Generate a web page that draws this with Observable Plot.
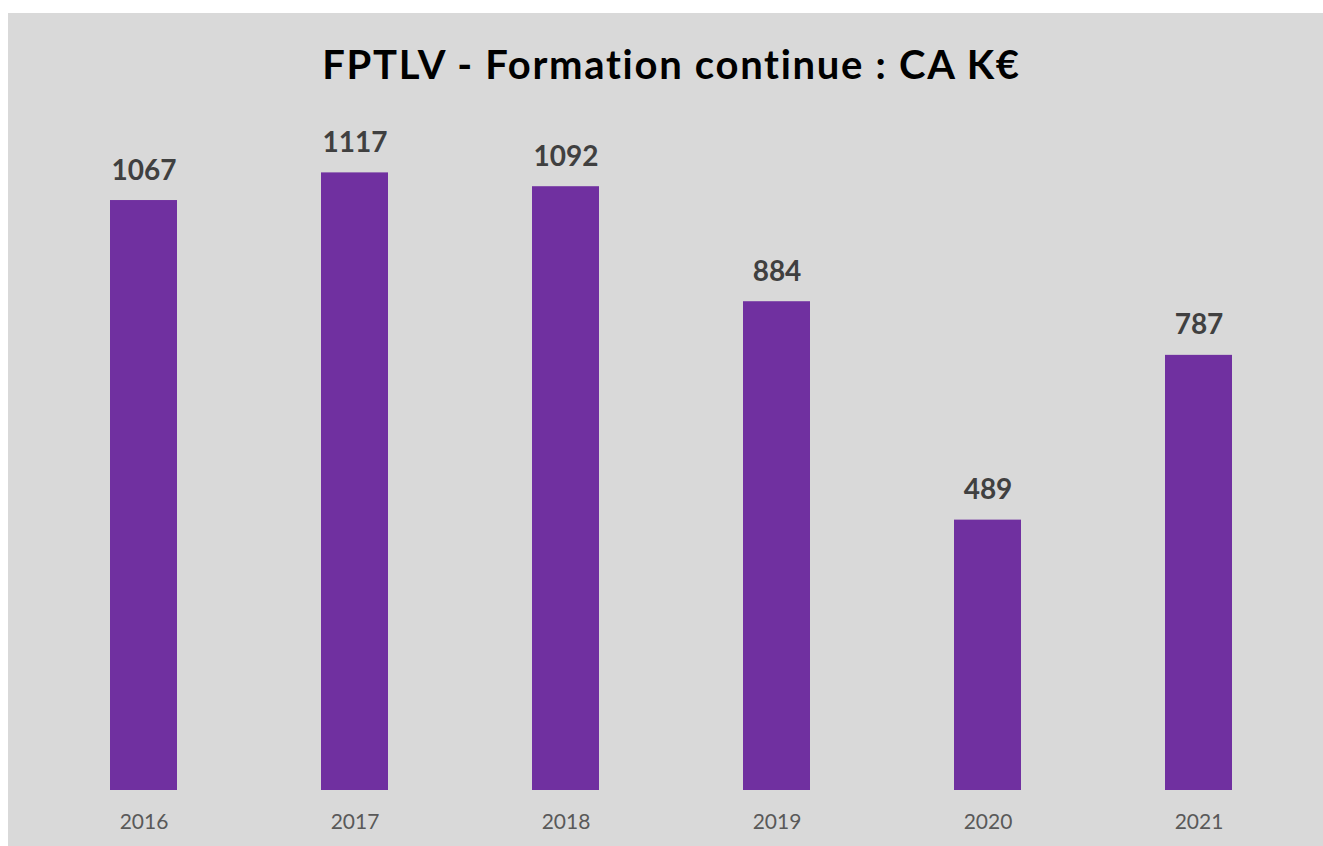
<!DOCTYPE html>
<html>
<head>
<meta charset="utf-8">
<script src="https://cdn.jsdelivr.net/npm/d3@7"></script>
<script src="https://cdn.jsdelivr.net/npm/@observablehq/plot@0.6"></script>
<style>
  html, body { margin: 0; padding: 0; background: #ffffff; }
  #panel { position: absolute; left: 8px; top: 13px; width: 1315px; height: 833px; background: #d9d9d9; overflow: hidden; }
  #title { position: absolute; left: 0; top: 31px; width: 1315px; padding-left: 12px; box-sizing: border-box; text-align: center;
           font-family: Lato, "Open Sans", sans-serif; font-weight: bold; font-size: 40px; line-height: 40px; letter-spacing: 1.7px; color: #000; }
  #chart { position: absolute; left: 0; top: 100px; }
</style>
</head>
<body>
<div id="panel">
  <div id="title">FPTLV - Formation continue : CA K€</div>
  <div id="chart"></div>
</div>
<script>
const years = ["2016", "2017", "2018", "2019", "2020", "2021"];
const revenue = [1067, 1117, 1092, 884, 489, 787];

const data = years.map((year, i) => ({year, value: revenue[i]}));

const plot = Plot.plot({
  width: 1315,
  height: 733,
  marginLeft: 30,
  marginRight: 19,
  marginTop: 13.5,
  marginBottom: 56,
  style: {background: "transparent", fontFamily: "Lato, 'Open Sans', sans-serif", overflow: "visible"},
  x: {domain: years, paddingInner: 0.682, paddingOuter: 0.341, label: null},
  y: {domain: [0, 1200], axis: null},
  marks: [
    Plot.barY(data, {x: "year", y: "value", fill: "#7030a0"}),
    Plot.text(data, {x: "year", y: "value", text: d => String(d.value), dy: -30, fontSize: 28, fontWeight: "bold", fill: "#404040"}),
    Plot.axisX({tickSize: 0, tickPadding: 24, fontSize: 21, color: "#595959", label: null})
  ]
});
document.getElementById("chart").appendChild(plot);
</script>
</body>
</html>
